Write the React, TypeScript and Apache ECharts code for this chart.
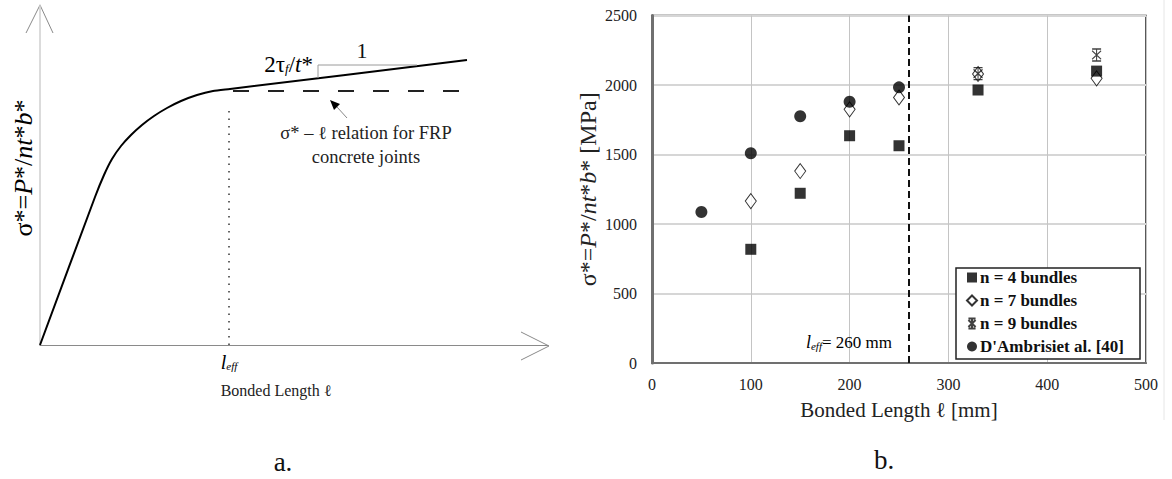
import { useEffect, useRef } from "react";
import * as echarts from "echarts";

// ---- Panel b: measured bond strength vs bonded length ----
const lengthTicks = [0, 100, 200, 300, 400, 500];
const stressTicks = [0, 500, 1000, 1500, 2000, 2500];

const nFourBundles: [number, number][] = [
  [100, 818], [150, 1221], [200, 1635], [250, 1563], [330, 1964], [450, 2100],
];
const nSevenBundles: [number, number][] = [
  [100, 1165], [150, 1381], [200, 1825], [250, 1910], [330, 2079], [450, 2048],
];
const nNineBundles: [number, number][] = [
  [330, 2082], [450, 2216],
];
const dAmbrisiData: [number, number][] = [
  [50, 1086], [100, 1509], [150, 1775], [200, 1880], [250, 1983],
];
const effectiveLength = 260;

const seriesNames = ["n = 4 bundles", "n = 7 bundles", "n = 9 bundles", "D'Ambrisiet al. [40]"];

// ---- Panel a: idealised σ*–ℓ relation (schematic units) ----
const schematicLength = [0, 55, 64, 72, 81, 91, 102, 114, 127, 141, 157, 173, 190, 427];
const schematicStress = [0, 148, 170, 186, 199, 210, 220, 229, 237, 244, 250, 254, 256, 285];
const plateauLength = [193, 427];
const plateauStress = 254;
const schematicEff = 189;
const schematicEffTop = 238;
const slopeTriangleLength = [278, 278, 377];
const slopeTriangleStress = [267, 280, 280];

const SERIF = "'Liberation Serif', 'Times New Roman', serif";
const starPath = "path://M0,0H10M0,14H10M5,0V14M0,2L10,12M10,2L0,12";

export default function App() {
  const ref = useRef<HTMLDivElement>(null);

  useEffect(() => {
    if (!ref.current) return;
    const chart = echarts.init(ref.current, undefined, { renderer: "svg" });

    const zip = (xs: number[], ys: number[]) => xs.map((x, i) => [x, ys[i]]);
    const plainNumber = (v: number) => String(v);

    const option: echarts.EChartsOption = {
      animation: false,
      backgroundColor: "#fff",
      grid: [
        { left: 40, top: 5, width: 508, height: 340, show: false },
        {
          left: 652, top: 15.5, width: 494, height: 347.5, show: true,
          borderColor: "#222", borderWidth: 1.5, backgroundColor: "transparent",
        },
      ],
      xAxis: [
        {
          gridIndex: 0, type: "value", min: 0, max: 508,
          axisLine: { show: true, lineStyle: { color: "#8a8a8a", width: 1.2 } },
          axisTick: { show: false }, axisLabel: { show: false }, splitLine: { show: false },
        },
        {
          gridIndex: 1, type: "value",
          min: lengthTicks[0], max: lengthTicks[lengthTicks.length - 1],
          interval: lengthTicks[1] - lengthTicks[0],
          axisLine: { show: true, lineStyle: { color: "#707070", width: 2 } },
          axisTick: { show: false },
          axisLabel: { fontFamily: SERIF, fontSize: 16, color: "#222", margin: 13, formatter: plainNumber },
          splitLine: { show: true, lineStyle: { color: "#c4c4c4", width: 1 } },
          name: "Bonded Length ℓ [mm]",
          nameLocation: "middle",
          nameGap: 36,
          nameTextStyle: { fontFamily: SERIF, fontSize: 21, color: "#222" },
        },
      ],
      yAxis: [
        {
          gridIndex: 0, type: "value", min: 0, max: 340,
          axisLine: { show: true, lineStyle: { color: "#cfcfcf", width: 1.5 } },
          axisTick: { show: false }, axisLabel: { show: false }, splitLine: { show: false },
        },
        {
          gridIndex: 1, type: "value",
          min: stressTicks[0], max: stressTicks[stressTicks.length - 1],
          interval: stressTicks[1] - stressTicks[0],
          axisLine: { show: true, lineStyle: { color: "#707070", width: 3 } },
          axisTick: { show: false },
          axisLabel: { fontFamily: SERIF, fontSize: 16, color: "#222", margin: 15, formatter: plainNumber },
          splitLine: { show: true, lineStyle: { color: "#d6d6d6", width: 2 } },
          name: "{n|σ*=}{i|P}{n|*/}{i|nt}{n|*}{i|b}{n|* [MPa]}",
          nameLocation: "middle",
          nameGap: 52,
          nameTextStyle: {
            rich: {
              n: { fontFamily: SERIF, fontSize: 24, color: "#222" },
              i: { fontFamily: SERIF, fontSize: 24, fontStyle: "italic", color: "#222" },
            },
          },
        },
      ],
      legend: {
        orient: "vertical",
        left: 966,
        top: 269,
        itemWidth: 10,
        itemHeight: 10,
        itemGap: 6,
        padding: 0,
        z: 10,
        data: seriesNames,
        textStyle: { fontFamily: SERIF, fontSize: 17, fontWeight: "bold", color: "#111", padding: [0, 0, 0, -2] },
      },
      series: [
        // schematic curve (panel a)
        {
          type: "line", xAxisIndex: 0, yAxisIndex: 0, silent: true,
          data: zip(schematicLength, schematicStress),
          smooth: 0.2, showSymbol: false,
          lineStyle: { color: "#000", width: 2 },
        },
        {
          type: "line", xAxisIndex: 0, yAxisIndex: 0, silent: true,
          data: plateauLength.map((x) => [x, plateauStress]),
          showSymbol: false,
          lineStyle: { color: "#222", width: 2, type: [16, 19] },
        },
        {
          type: "line", xAxisIndex: 0, yAxisIndex: 0, silent: true,
          data: [[schematicEff, 0], [schematicEff, schematicEffTop]],
          showSymbol: false,
          lineStyle: { color: "#333", width: 1.5, type: [1.5, 6] },
        },
        {
          type: "line", xAxisIndex: 0, yAxisIndex: 0, silent: true,
          data: zip(slopeTriangleLength, slopeTriangleStress),
          showSymbol: false,
          lineStyle: { color: "#9a9a9a", width: 1 },
        },
        // measured data (panel b)
        {
          name: seriesNames[1], type: "scatter", xAxisIndex: 1, yAxisIndex: 1, z: 2,
          data: nSevenBundles, symbol: "diamond", symbolSize: [11, 15],
          itemStyle: { color: "#fff", borderColor: "#000", borderWidth: 1 },
        },
        {
          name: seriesNames[2], type: "scatter", xAxisIndex: 1, yAxisIndex: 1, z: 2,
          data: nNineBundles, symbol: starPath, symbolSize: [9, 12],
          itemStyle: { color: "transparent", borderColor: "#111", borderWidth: 1.2 },
        },
        {
          name: seriesNames[0], type: "scatter", xAxisIndex: 1, yAxisIndex: 1, z: 3,
          data: nFourBundles, symbol: "rect", symbolSize: 11,
          itemStyle: { color: "#000" },
          markLine: {
            silent: true, symbol: "none",
            label: { show: false },
            lineStyle: { color: "#111", width: 2, type: [7, 4] },
            data: [{ xAxis: effectiveLength }],
          },
        },
        {
          name: seriesNames[3], type: "scatter", xAxisIndex: 1, yAxisIndex: 1, z: 4,
          data: dAmbrisiData, symbol: "circle", symbolSize: 12,
          itemStyle: { color: "#000" },
        },
      ],
      graphic: [
        // panel a: open arrow heads on the axes
        { type: "polyline", shape: { points: [[26, 33], [40, 5], [53, 33]] }, style: { stroke: "#8a8a8a", lineWidth: 1, fill: "none" } },
        { type: "polyline", shape: { points: [[521, 332], [549, 346], [521, 360]] }, style: { stroke: "#8a8a8a", lineWidth: 1, fill: "none" } },
        // annotation arrow
        { type: "line", shape: { x1: 337, y1: 107, x2: 347, y2: 118 }, style: { stroke: "#888", lineWidth: 1 } },
        { type: "polygon", shape: { points: [[330, 100], [340, 104], [334, 110]] }, style: { fill: "#000" } },
        {
          type: "text", x: 313, y: 64,
          style: {
            text: "{n|2τ}{s|f}{n|/}{i|t}{n|*}", align: "right", verticalAlign: "middle",
            rich: {
              n: { fontFamily: SERIF, fontSize: 23, color: "#111" },
              i: { fontFamily: SERIF, fontSize: 23, fontStyle: "italic", color: "#111" },
              s: { fontFamily: SERIF, fontSize: 13, fontStyle: "italic", color: "#111", padding: [9, 0, 0, 0] },
            },
          },
        },
        { type: "text", x: 362, y: 50, style: { text: "1", font: `22px ${SERIF}`, fill: "#111", align: "center", verticalAlign: "middle" } },
        { type: "text", x: 366, y: 133, style: { text: "σ* – ℓ relation for FRP", font: `18.5px ${SERIF}`, fill: "#222", align: "center", verticalAlign: "middle" } },
        { type: "text", x: 366, y: 157, style: { text: "concrete joints", font: `18.5px ${SERIF}`, fill: "#222", align: "center", verticalAlign: "middle" } },
        {
          type: "text", x: 229, y: 362,
          style: {
            text: "{i|l}{s|eff}", align: "center", verticalAlign: "middle",
            rich: {
              i: { fontFamily: SERIF, fontSize: 20, fontStyle: "italic", color: "#222" },
              s: { fontFamily: SERIF, fontSize: 11, fontStyle: "italic", color: "#222", padding: [8, 0, 0, 0] },
            },
          },
        },
        { type: "text", x: 276, y: 390, style: { text: "Bonded Length ℓ", font: `16px ${SERIF}`, fill: "#222", align: "center", verticalAlign: "middle" } },
        {
          type: "text", x: 23, y: 168, rotation: Math.PI / 2,
          style: {
            text: "{n|σ*=}{i|P}{n|*/}{i|nt}{n|*}{i|b}{n|*}", align: "center", verticalAlign: "middle",
            rich: {
              n: { fontFamily: SERIF, fontSize: 26, color: "#111" },
              i: { fontFamily: SERIF, fontSize: 26, fontStyle: "italic", color: "#111" },
            },
          },
        },
        { type: "text", x: 283, y: 462, style: { text: "a.", font: `27px ${SERIF}`, fill: "#111", align: "center", verticalAlign: "middle" } },
        // panel b extras
        { type: "text", x: 884, y: 460, style: { text: "b.", font: `27px ${SERIF}`, fill: "#111", align: "center", verticalAlign: "middle" } },
        {
          type: "text", x: 892, y: 342, z: 5,
          style: {
            text: `{i|l}{s|eff}{n|= ${effectiveLength} mm}`, align: "right", verticalAlign: "middle",
            rich: {
              i: { fontFamily: SERIF, fontSize: 18, fontStyle: "italic", color: "#222" },
              s: { fontFamily: SERIF, fontSize: 11, fontStyle: "italic", color: "#222", padding: [7, 0, 0, 0] },
              n: { fontFamily: SERIF, fontSize: 17, color: "#222" },
            },
          },
        },
        { type: "rect", z: 3, shape: { x: 956, y: 268, width: 184, height: 91 }, style: { fill: "#fff", stroke: "#222", lineWidth: 1.5 } },
        { type: "line", shape: { x1: 1164, y1: 0, x2: 1164, y2: 420 }, style: { stroke: "#e6e6e6", lineWidth: 1 } },
      ],
    };

    chart.setOption(option);
    return () => chart.dispose();
  }, []);

  return (
    <div
      ref={ref}
      style={{ position: "fixed", left: 0, top: 0, width: 1172, height: 479, background: "#fff" }}
    />
  );
}
